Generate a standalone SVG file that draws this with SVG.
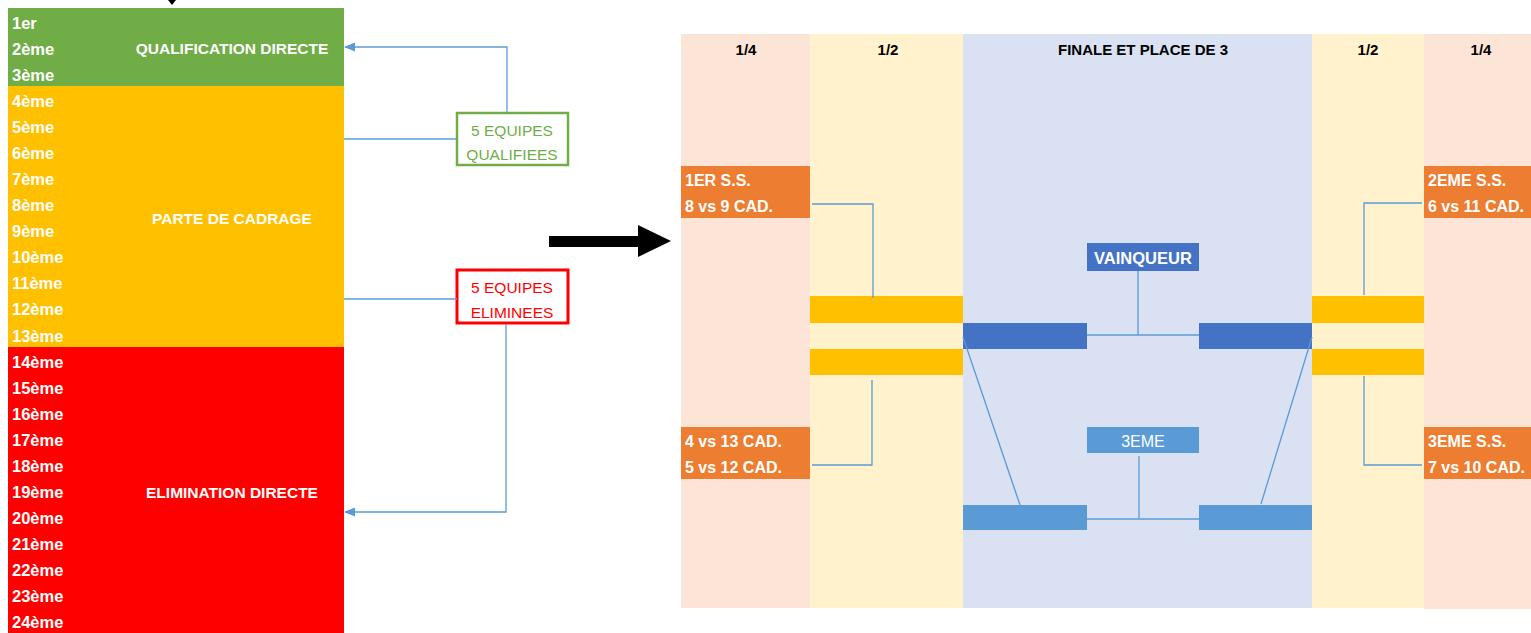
<svg xmlns="http://www.w3.org/2000/svg" width="1531" height="633" viewBox="0 0 1531 633">
<style>
text{font-family:"Liberation Sans",Arial,sans-serif;}
.rank{font-size:16.5px;font-weight:bold;fill:#fff;}
.zone{font-size:15.5px;font-weight:bold;fill:#fff;text-anchor:middle;}
.hdr{font-size:15px;font-weight:bold;fill:#000;text-anchor:middle;}
.mt{font-size:16px;font-weight:bold;fill:#fff;}
.cn{fill:none;stroke:#5B9BD5;stroke-width:1.3;}
.bx{font-size:15.5px;text-anchor:middle;}
</style>
<defs>
<marker id="ah" markerWidth="11" markerHeight="9" refX="10" refY="4.5" orient="auto" markerUnits="userSpaceOnUse">
<path d="M0,0 L11,4.5 L0,9 Z" fill="#5B9BD5"/>
</marker>
</defs>
<rect width="1531" height="633" fill="#fff"/>
<path d="M168,0 L176,0 L172,5 Z" fill="#000"/>
<g id="table">
<rect x="8" y="8" width="336" height="78" fill="#70AD47"/>
<rect x="8" y="86" width="336" height="261" fill="#FFC000"/>
<rect x="8" y="347" width="336" height="286" fill="#FF0000"/>
<text class="rank" x="12" y="29">1er</text>
<text class="rank" x="12" y="55">2ème</text>
<text class="rank" x="12" y="81">3ème</text>
<text class="rank" x="12" y="107">4ème</text>
<text class="rank" x="12" y="133">5ème</text>
<text class="rank" x="12" y="159">6ème</text>
<text class="rank" x="12" y="185">7ème</text>
<text class="rank" x="12" y="211">8ème</text>
<text class="rank" x="12" y="237">9ème</text>
<text class="rank" x="12" y="263">10ème</text>
<text class="rank" x="12" y="289">11ème</text>
<text class="rank" x="12" y="315">12ème</text>
<text class="rank" x="12" y="342">13ème</text>
<text class="rank" x="12" y="368">14ème</text>
<text class="rank" x="12" y="394">15ème</text>
<text class="rank" x="12" y="420">16ème</text>
<text class="rank" x="12" y="446">17ème</text>
<text class="rank" x="12" y="472">18ème</text>
<text class="rank" x="12" y="498">19ème</text>
<text class="rank" x="12" y="524">20ème</text>
<text class="rank" x="12" y="550">21ème</text>
<text class="rank" x="12" y="576">22ème</text>
<text class="rank" x="12" y="602">23ème</text>
<text class="rank" x="12" y="628">24ème</text>
<text class="zone" x="232" y="54">QUALIFICATION DIRECTE</text>
<text class="zone" x="232" y="224">PARTE DE CADRAGE</text>
<text class="zone" x="232" y="498">ELIMINATION DIRECTE</text>
</g>
<g id="box-qualifiees">
<rect x="457" y="113" width="111" height="52" fill="#fff" stroke="#70AD47" stroke-width="2.5"/>
<text class="bx" x="512" y="136" fill="#70AD47">5 EQUIPES</text>
<text class="bx" x="512" y="160" fill="#70AD47">QUALIFIEES</text>
</g>
<g id="box-eliminees">
<rect x="457" y="270" width="111" height="53" fill="#fff" stroke="#FF0000" stroke-width="3"/>
<text class="bx" x="512" y="293" fill="#FF0000">5 EQUIPES</text>
<text class="bx" x="512" y="318" fill="#FF0000">ELIMINEES</text>
</g>
<g id="big-arrow">
<path d="M549,236 L638,236 L638,225 L671,241 L638,257 L638,247 L549,247 Z" fill="#000"/>
</g>
<g id="columns">
<rect x="681" y="34" width="129" height="574" fill="#FCE4D6"/>
<rect x="810" y="34" width="153" height="574" fill="#FFF2CC"/>
<rect x="963" y="34" width="349" height="574" fill="#D9E1F2"/>
<rect x="1312" y="34" width="112" height="574" fill="#FFF2CC"/>
<rect x="1424" y="34" width="107" height="575" fill="#FCE4D6"/>
<text class="hdr" x="746" y="55">1/4</text>
<text class="hdr" x="888" y="55">1/2</text>
<text class="hdr" x="1143" y="55">FINALE ET PLACE DE 3</text>
<text class="hdr" x="1368" y="55">1/2</text>
<text class="hdr" x="1481" y="55">1/4</text>
</g>
<g id="match-1er">
<rect x="681" y="166" width="129" height="52" fill="#ED7D31"/>
<text class="mt" x="685" y="186">1ER S.S.</text>
<text class="mt" x="685" y="212">8 vs 9 CAD.</text>
</g>
<g id="match-4-5">
<rect x="681" y="427" width="129" height="52" fill="#ED7D31"/>
<text class="mt" x="685" y="447">4 vs 13 CAD.</text>
<text class="mt" x="685" y="473">5 vs 12 CAD.</text>
</g>
<g id="match-2eme">
<rect x="1424" y="166" width="107" height="52" fill="#ED7D31"/>
<text class="mt" x="1428" y="186">2EME S.S.</text>
<text class="mt" x="1428" y="212">6 vs 11 CAD.</text>
</g>
<g id="match-3eme">
<rect x="1424" y="427" width="107" height="52" fill="#ED7D31"/>
<text class="mt" x="1428" y="447">3EME S.S.</text>
<text class="mt" x="1428" y="473">7 vs 10 CAD.</text>
</g>
<g id="semi-left">
<rect x="810" y="296" width="153" height="27" fill="#FFC000"/>
<rect x="810" y="349" width="153" height="26" fill="#FFC000"/>
</g>
<g id="semi-right">
<rect x="1312" y="296" width="112" height="27" fill="#FFC000"/>
<rect x="1312" y="349" width="112" height="26" fill="#FFC000"/>
</g>
<g id="final">
<rect x="963" y="323" width="124" height="26" fill="#4472C4"/>
<rect x="1199" y="323" width="113" height="26" fill="#4472C4"/>
</g>
<g id="third">
<rect x="963" y="505" width="124" height="25" fill="#5B9BD5"/>
<rect x="1199" y="505" width="113" height="25" fill="#5B9BD5"/>
</g>
<g id="vainqueur">
<rect x="1087" y="243" width="112" height="28" fill="#4472C4"/>
<text x="1143" y="264" text-anchor="middle" font-size="16.5" font-weight="bold" fill="#fff">VAINQUEUR</text>
</g>
<g id="troisieme">
<rect x="1087" y="427" width="112" height="26" fill="#5B9BD5"/>
<text x="1143" y="447" text-anchor="middle" font-size="16" fill="#fff">3EME</text>
</g>
<g id="connectors">
<path class="cn" d="M507,113 L507,47 L345,47" marker-end="url(#ah)"/>
<path class="cn" d="M457,139 L344,139"/>
<path class="cn" d="M457,299 L344,299"/>
<path class="cn" d="M506,324 L506,512 L345,512" marker-end="url(#ah)"/>
<path class="cn" d="M812,204 L873,204 L873,298"/>
<path class="cn" d="M812,465 L872,465 L872,380"/>
<path class="cn" d="M1422,203 L1364,203 L1364,295"/>
<path class="cn" d="M1422,465 L1364,465 L1364,376"/>
<path class="cn" d="M1138,271 L1138,335 M1087,335 L1199,335"/>
<path class="cn" d="M1139,456 L1139,518 M1087,519 L1199,519"/>
<path class="cn" d="M963,337 L1020,505"/>
<path class="cn" d="M1312,337 L1261,504"/>
</g>
</svg>
